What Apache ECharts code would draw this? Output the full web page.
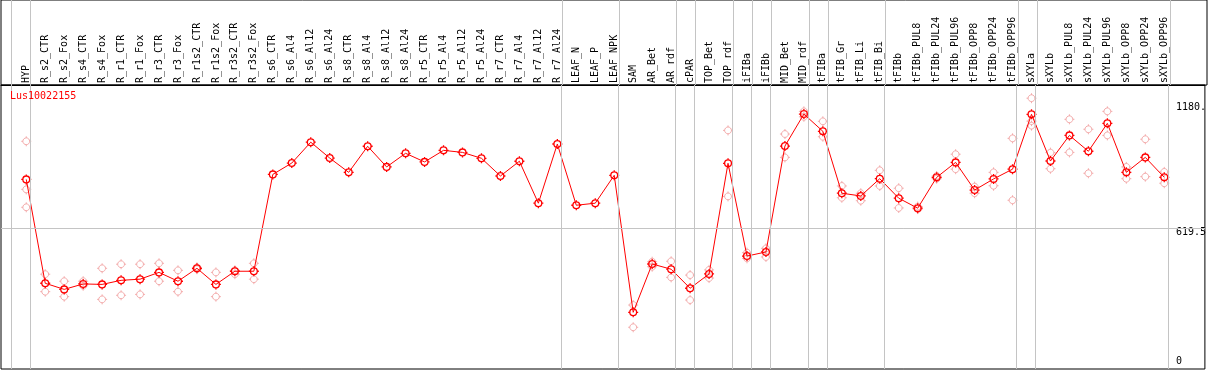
<!DOCTYPE html>
<html><head><meta charset="utf-8">
<script src="https://cdn.jsdelivr.net/npm/echarts@6/dist/echarts.min.js"></script>
<style>html,body{margin:0;padding:0;background:#fff}#c{width:1209px;height:370px}</style>
</head><body><div id="c"></div>
<script>
const geneName = 'Lus10022155';
const categories = ['HYP','R_s2_CTR','R_s2_Fox','R_s4_CTR','R_s4_Fox','R_r1_CTR','R_r1_Fox','R_r3_CTR','R_r3_Fox','R_r1s2_CTR','R_r1s2_Fox','R_r3s2_CTR','R_r3s2_Fox','R_s6_CTR','R_s6_Al4','R_s6_Al12','R_s6_Al24','R_s8_CTR','R_s8_Al4','R_s8_Al12','R_s8_Al24','R_r5_CTR','R_r5_Al4','R_r5_Al12','R_r5_Al24','R_r7_CTR','R_r7_Al4','R_r7_Al12','R_r7_Al24','LEAF_N','LEAF_P','LEAF_NPK','SAM','AR_Bet','AR_rdf','cPAR','TOP_Bet','TOP_rdf','iFIBa','iFIBb','MID_Bet','MID_rdf','tFIBa','tFIB_Gr','tFIB_Li','tFIB_Bi','tFIBb','tFIBb_PUL8','tFIBb_PUL24','tFIBb_PUL96','tFIBb_OPP8','tFIBb_OPP24','tFIBb_OPP96','sXYLa','sXYLb','sXYLb_PUL8','sXYLb_PUL24','sXYLb_PUL96','sXYLb_OPP8','sXYLb_OPP24','sXYLb_OPP96'];
const meanValues = [836,378,351,375,373,391,396,426,387,444,373,431,431,858,908,1000,930,867,982,891,951,913,964,955,929,851,916,731,992,722,731,854,250,463,440,356,419,907,498,516,983,1124,1048,775,763,839,753,709,845,911,789,838,881,1123,917,1030,960,1083,867,933,845];
const rep1 = [1004,418,387,387,444,462,462,466,435,440,426,435,466,null,null,null,null,null,null,null,null,null,null,null,null,null,null,null,null,null,null,null,282,473,475,414,437,1052,513,532,1036,1136,1092,807,775,876,797,716,851,947,804,867,1017,1194,954,1101,1057,1136,891,1013,869];
const rep2 = [792,341,319,367,307,325,329,387,341,448,319,418,396,null,null,null,null,null,null,null,null,null,null,null,null,null,null,null,null,null,null,null,184,451,404,304,401,761,488,494,933,1112,1024,755,742,807,710,705,839,881,775,808,744,1093,883,955,863,1030,839,848,819];
const rep3 = [713,null,null,null,null,null,null,null,null,null,null,null,null,null,null,null,null,null,null,null,null,null,null,null,null,null,null,null,null,null,null,null,null,null,null,null,null,null,null,null,null,null,null,null,null,null,null,null,null,null,null,null,null,1073,null,null,null,null,null,null,null];
const groupEnds = [-1,0,28,31,34,35,37,38,39,41,42,45,52,53,60];
const yTickValues = [0, 619.5, 1180];
const yTickLabels = ['0', '619.5', '1180.'];

const MONO = '"DejaVu Sans Mono", "Liberation Mono", monospace';
const SYM = 'path://M8.4,5C8.4,6.878 6.878,8.4 5,8.4C3.122,8.4 1.6,6.878 1.6,5C1.6,3.122 3.122,1.6 5,1.6C6.878,1.6 8.4,3.122 8.4,5Z M5,0L5,1.6 M5,8.4L5,10 M0,5L1.6,5 M8.4,5L10,5';
const X_MIN = (1 - 26.3) / 19, X_MAX = (1207 - 26.3) / 19;

const toPairs = arr => arr.map((v, i) => v == null ? null : [i, v]).filter(d => d);
const repData = [].concat(toPairs(rep1), toPairs(rep2), toPairs(rep3));
const groupLines = {
  silent: true, symbol: 'none', animation: false,
  label: {show: false},
  lineStyle: {color: '#c4c4c4', width: 1, type: 'solid'},
  data: groupEnds.map(b => ({xAxis: b + 0.22}))
};

const chart = echarts.init(document.getElementById('c'), null, {renderer: 'canvas'});
chart.setOption({
  animation: false,
  backgroundColor: '#fff',
  title: {text: geneName, left: 10, top: 91, padding: 0,
    textStyle: {fontFamily: MONO, fontSize: 10, fontWeight: 'normal', color: '#ff0000'}},
  grid: [
    {left: 1, right: 2, top: 85, bottom: 1, show: true, borderColor: '#000', borderWidth: 1, backgroundColor: 'transparent'},
    {left: 1, right: 2, top: 0, height: 85, show: true, borderColor: '#000', borderWidth: 1, backgroundColor: 'transparent'}
  ],
  xAxis: [
    {
      type: 'value', position: 'top', gridIndex: 0,
      min: X_MIN, max: X_MAX,
      axisLine: {show: true, onZero: false, lineStyle: {color: '#000', width: 1}},
      axisTick: {show: false}, splitLine: {show: false},
      axisLabel: {
        customValues: categories.map((c, i) => i),
        rotate: -90, margin: 2, fontFamily: MONO, fontSize: 10, color: '#000',
        formatter: v => categories[Math.round(v)] || ''
      }
    },
    {
      type: 'value', gridIndex: 1, min: X_MIN, max: X_MAX, show: false
    }
  ],
  yAxis: [
    {
      type: 'value', position: 'right', gridIndex: 0, min: 0, max: 284 * 4.409,
      axisLine: {show: false}, axisTick: {show: false}, splitLine: {show: false},
      axisLabel: {
        customValues: yTickValues, inside: true, align: 'left', margin: 29,
        verticalAlign: 'middle', fontFamily: MONO, fontSize: 10, color: '#000',
        formatter: v => {
          const i = yTickValues.indexOf(v);
          return '{s' + i + '|' + yTickLabels[i] + '}';
        },
        rich: {
          s0: {padding: [0, 0, 15, 0], fontFamily: MONO, fontSize: 10, color: '#000'},
          s1: {padding: [7, 0, 0, 0], fontFamily: MONO, fontSize: 10, color: '#000'},
          s2: {padding: [12, 0, 0, 0], fontFamily: MONO, fontSize: 10, color: '#000'}
        }
      }
    },
    {type: 'value', gridIndex: 1, min: 0, max: 1, show: false}
  ],
  series: [
    {
      type: 'scatter', name: 'labelBandLines', xAxisIndex: 1, yAxisIndex: 1,
      data: [], silent: true, markLine: groupLines
    },
    {
      type: 'scatter', name: 'replicates', data: repData,
      symbol: SYM, symbolSize: 10, z: 2,
      itemStyle: {color: 'rgba(255,255,255,0)', borderColor: '#f09898', borderWidth: 1},
      emphasis: {disabled: true}, silent: true,
      markLine: Object.assign({}, groupLines, {data: groupLines.data.concat([{yAxis: 619.5}])})
    },
    {
      type: 'line', name: 'mean', data: toPairs(meanValues),
      symbol: SYM, symbolSize: 10, showSymbol: true, z: 3,
      lineStyle: {color: '#ff0000', width: 1},
      itemStyle: {color: 'rgba(255,255,255,0)', borderColor: '#ff0000', borderWidth: 1.3},
      emphasis: {disabled: true}, silent: true
    }
  ]
});
</script></body></html>
